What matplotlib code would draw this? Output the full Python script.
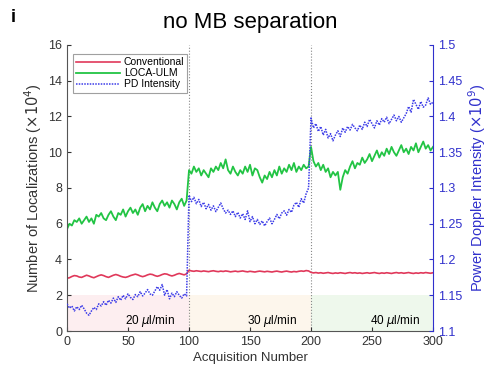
import numpy as np
import matplotlib
matplotlib.use("Agg")
import matplotlib.pyplot as plt

plt.rcParams['font.family'] = ['Liberation Sans', 'DejaVu Sans']

acq = list(range(0, 301, 2))

loca_ulm = [
    5.7, 6.0, 5.9, 6.2, 6.1, 6.3, 6.0, 6.2, 6.4, 6.1,
    6.3, 6.0, 6.5, 6.4, 6.6, 6.3, 6.2, 6.5, 6.7, 6.4,
    6.2, 6.6, 6.5, 6.8, 6.4, 6.7, 6.9, 6.6, 6.8, 6.5,
    6.9, 7.1, 6.7, 7.0, 6.8, 7.2, 6.9, 6.7, 7.1, 7.3,
    7.0, 7.2, 6.9, 7.3, 7.1, 6.8, 7.2, 7.4, 7.0, 7.3,
    9.0, 8.8, 9.2, 8.9, 9.1, 8.7, 9.0, 8.8, 8.6, 9.1,
    8.9, 9.2, 9.0, 9.4, 9.1, 9.6, 9.0, 8.8, 9.2, 8.9,
    8.7, 9.0, 8.8, 9.2, 8.9, 9.3, 8.7, 9.1, 9.0, 8.6,
    8.3, 8.7, 8.5, 8.9, 8.6, 9.0, 8.7, 9.2, 8.8, 9.1,
    8.9, 9.3, 9.0, 9.4, 8.9, 9.2, 9.0, 9.3, 9.1, 9.2,
    10.3, 9.5, 9.2, 9.4, 9.0, 9.3, 8.9, 9.1, 8.6, 8.9,
    8.7, 8.9, 7.9, 8.6, 9.0, 8.8, 9.2, 9.5, 9.1, 9.4,
    9.3, 9.7, 9.4, 9.6, 9.9, 9.5, 9.8, 10.1, 9.7, 10.0,
    9.8, 10.2, 9.9, 10.3, 10.0, 9.8, 10.1, 10.4, 10.0, 10.2,
    9.9, 10.3, 10.1, 10.5, 10.0, 10.3, 10.6, 10.2, 10.4, 10.1, 10.3,
]

conventional = [
    2.95, 2.98, 3.05, 3.10, 3.08, 3.02, 3.00, 3.06, 3.12, 3.08,
    3.02, 2.98, 3.04, 3.10, 3.14, 3.10, 3.04, 3.00, 3.06, 3.12,
    3.16, 3.12, 3.06, 3.02, 3.00, 3.04, 3.10, 3.14, 3.18, 3.14,
    3.08, 3.04, 3.08, 3.14, 3.18, 3.16, 3.10, 3.06, 3.10, 3.16,
    3.20, 3.18, 3.12, 3.08, 3.12, 3.18, 3.22, 3.18, 3.14, 3.20,
    3.40, 3.36, 3.34, 3.37, 3.35, 3.33, 3.36, 3.34, 3.32, 3.35,
    3.37, 3.34, 3.32, 3.35, 3.33, 3.36, 3.34, 3.31, 3.33, 3.35,
    3.32, 3.34, 3.36, 3.33, 3.31, 3.34, 3.32, 3.30, 3.33, 3.35,
    3.33, 3.31, 3.34, 3.32, 3.30, 3.33, 3.35, 3.32, 3.30, 3.33,
    3.35, 3.32, 3.30, 3.33, 3.31, 3.34, 3.36, 3.34, 3.38, 3.36,
    3.28, 3.25, 3.27, 3.24, 3.26, 3.23, 3.25, 3.27, 3.24, 3.22,
    3.25, 3.23, 3.26, 3.24, 3.22, 3.25, 3.27, 3.24, 3.26, 3.23,
    3.25, 3.22, 3.24, 3.26, 3.23, 3.25, 3.27, 3.24, 3.22, 3.25,
    3.23, 3.26, 3.24, 3.22, 3.25, 3.27, 3.24, 3.26, 3.23, 3.25,
    3.27, 3.24, 3.22, 3.25, 3.23, 3.26, 3.24, 3.27, 3.25, 3.23, 3.26,
]

pd_intensity = [
    1.138, 1.132, 1.135, 1.128, 1.134, 1.130, 1.136, 1.131, 1.125, 1.122,
    1.128, 1.133, 1.130, 1.138, 1.135, 1.141, 1.136, 1.143, 1.139, 1.146,
    1.140, 1.148, 1.143, 1.150, 1.145, 1.152, 1.147, 1.144, 1.151, 1.148,
    1.155, 1.149, 1.153, 1.158, 1.152, 1.150, 1.156, 1.162, 1.157, 1.165,
    1.150, 1.158, 1.145, 1.153, 1.148, 1.155, 1.150, 1.146, 1.152, 1.149,
    1.290, 1.281, 1.287, 1.278, 1.284, 1.274, 1.280, 1.271, 1.277, 1.269,
    1.275, 1.267, 1.273, 1.279, 1.271, 1.265, 1.269, 1.263, 1.268, 1.260,
    1.266, 1.258, 1.264, 1.256, 1.268, 1.253, 1.260, 1.250, 1.256, 1.249,
    1.254, 1.247, 1.253, 1.258, 1.250, 1.256, 1.263, 1.257, 1.265, 1.268,
    1.262, 1.270, 1.266, 1.276, 1.280, 1.273, 1.285, 1.279, 1.292, 1.300,
    1.398, 1.384, 1.390, 1.379, 1.386, 1.374, 1.382, 1.370, 1.376, 1.366,
    1.374, 1.380, 1.372, 1.384, 1.378, 1.386, 1.381, 1.389, 1.384, 1.380,
    1.388, 1.382, 1.392, 1.386, 1.396, 1.390, 1.384, 1.394, 1.388, 1.397,
    1.392, 1.399, 1.390, 1.396, 1.402, 1.394, 1.400, 1.392, 1.398, 1.404,
    1.414, 1.406, 1.424, 1.417, 1.410, 1.421, 1.413, 1.416, 1.426, 1.417, 1.420,
]

flow_labels = ['20 $\\mu$l/min', '30 $\\mu$l/min', '40 $\\mu$l/min']
flow_ranges = [(0, 100), (100, 200), (200, 300)]
flow_label_x = [68, 168, 269]
flow_colors = ['#fdeef0', '#fdf6ec', '#eef8ec']

red = '#e0385a'
green = '#22c444'
blue = '#3c3ce8'
rcol = '#3030cc'

fig = plt.figure(figsize=(4.91, 3.70), dpi=100)
ax = fig.add_axes([0.1365, 0.1054, 0.7454, 0.773])
ax2 = ax.twinx()

for (a, b), c in zip(flow_ranges, flow_colors):
    ax.fill_between([a, b], 0, 2, color=c, lw=0, zorder=0)
for xl, t in zip(flow_label_x, flow_labels):
    ax.text(xl, 0.55, t, ha='center', va='center', fontsize=8.5, color='black')

for xv in [100, 200]:
    ax.axvline(xv, color='#888888', lw=0.8, ls=':', zorder=1)

l1, = ax.plot(acq, conventional, color=red, lw=1.2, label='Conventional')
l2, = ax.plot(acq, loca_ulm, color=green, lw=1.3, label='LOCA-ULM')
l3, = ax2.plot(acq, pd_intensity, color=blue, lw=1.1, ls=(0, (1, 0.8)), label='PD Intensity')

ax.set_xlim(0, 300)
ax.set_ylim(0, 16)
ax2.set_ylim(1.1, 1.5)
ax.set_xticks(range(0, 301, 50))
ax.set_yticks(range(0, 17, 2))
ax2.set_yticks([1.1, 1.15, 1.2, 1.25, 1.3, 1.35, 1.4, 1.45, 1.5])
ax2.set_yticklabels(['1.1', '1.15', '1.2', '1.25', '1.3', '1.35', '1.4', '1.45', '1.5'])

ax.spines['top'].set_visible(False)
ax2.spines['top'].set_visible(False)
ax.spines['right'].set_visible(False)
ax2.spines['left'].set_visible(False)
ax2.spines['bottom'].set_visible(False)
ax.spines['left'].set_color('#555555')
ax.spines['bottom'].set_color('#555555')
ax2.spines['right'].set_color(rcol)

ax.tick_params(direction='in', length=3, labelsize=9, colors='#333333')
ax2.tick_params(direction='in', length=3, labelsize=9, colors=rcol)

ax.set_xlabel('Acquisition Number', fontsize=9.5, color='#333333', labelpad=3)
ax.set_ylabel('Number of Localizations ($\\times 10^4$)', fontsize=10.5, color='#333333', labelpad=3)
ax2.set_ylabel('Power Doppler Intensity ($\\times 10^9$)', fontsize=10.5, color=rcol, labelpad=3)

leg = ax.legend(handles=[l1, l2, l3], loc='upper left', bbox_to_anchor=(0.01, 0.975),
                fontsize=7.5, frameon=True, fancybox=False, edgecolor='#888888',
                labelspacing=0.1, handlelength=4.2, handletextpad=0.4, borderpad=0.3,
                borderaxespad=0.2)
leg.get_frame().set_linewidth(0.8)

fig.text(0.5 * (0.1365 + 0.8819), 0.94, 'no MB separation', ha='center', va='center', fontsize=16)
fig.text(0.022, 0.952, 'i', ha='left', va='center', fontsize=13, fontweight='bold')

fig.savefig('out.png', dpi=100)
